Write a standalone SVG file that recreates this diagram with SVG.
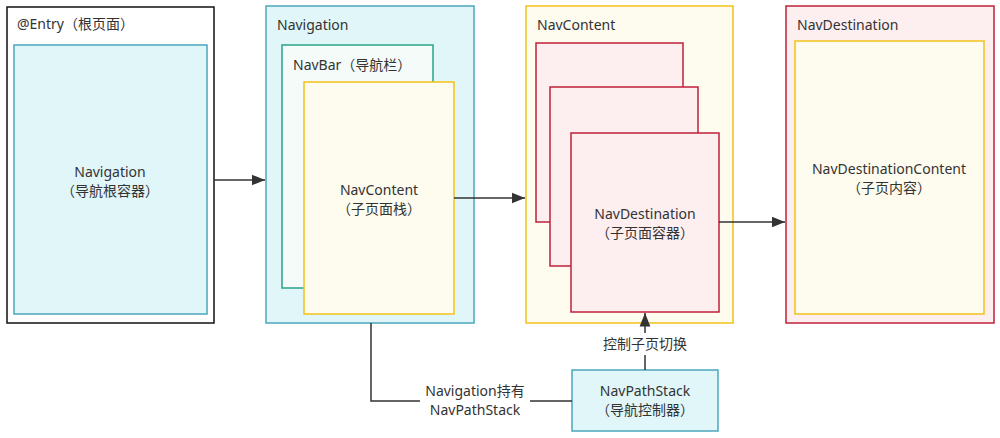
<svg xmlns="http://www.w3.org/2000/svg" width="1000" height="438" viewBox="0 0 1000 438">
<style>
text{font-family:"Noto Sans","Noto Sans CJK SC",sans-serif;font-size:14px;fill:#333}
.c{text-anchor:middle}
.cy{fill:#e0f6f8;stroke:#4ba6bd;stroke-width:1.5}
.yl{fill:#fefbef;stroke:#f2c21a;stroke-width:1.5}
.rd{fill:#fdeef0;stroke:#c0203a;stroke-width:1.5}
.gr{fill:#f4fbf9;stroke:#2aa386;stroke-width:1.5}
.ln{fill:none;stroke:#333;stroke-width:1.5}
</style>
<defs><marker id="a" viewBox="0 0 10 10" refX="10" refY="5" markerWidth="9" markerHeight="9" orient="auto"><path d="M0,1 L10,5 L0,9 z" fill="#333"/></marker></defs>
<g id="entry"><rect x="7" y="7" width="207" height="316" fill="#fff" stroke="#111" stroke-width="1.5"/><text x="17" y="29">@Entry（根页面）</text>
<rect x="14" y="45" width="193" height="269" class="cy"/><text x="110" y="177" class="c">Navigation</text><text x="110" y="196" class="c">（导航根容器）</text></g>
<g id="navigation"><rect x="266" y="6" width="208" height="317" class="cy"/><text x="277" y="30">Navigation</text>
<rect x="282" y="45" width="151" height="243" class="gr"/><text x="293" y="70">NavBar（导航栏）</text>
<rect x="304" y="82" width="150" height="232" class="yl"/><text x="379" y="195" class="c">NavContent</text><text x="379" y="214" class="c">（子页面栈）</text></g>
<g id="navcontent"><rect x="526" y="6" width="207" height="317" class="yl"/><text x="537" y="30">NavContent</text>
<rect x="536" y="43" width="147" height="179" class="rd"/><rect x="550" y="87" width="148" height="179" class="rd"/>
<rect x="571" y="133" width="148" height="179" class="rd"/><text x="645" y="219" class="c">NavDestination</text><text x="645" y="238" class="c">（子页面容器）</text></g>
<g id="navdest"><rect x="786" y="6" width="208" height="317" class="rd"/><text x="797" y="30">NavDestination</text>
<rect x="795" y="41" width="189" height="273" class="yl"/><text x="889" y="174" class="c">NavDestinationContent</text><text x="889" y="193" class="c">（子页内容）</text></g>
<g id="stack"><rect x="572" y="370" width="146" height="61" class="cy"/><text x="645" y="396" class="c">NavPathStack</text><text x="645" y="415" class="c">（导航控制器）</text></g>
<g id="connectors">
<path d="M214,180 H265" class="ln" marker-end="url(#a)"/>
<path d="M454,198 H525" class="ln" marker-end="url(#a)"/>
<path d="M719,222 H785" class="ln" marker-end="url(#a)"/>
<path d="M645,370 V313" class="ln" marker-end="url(#a)"/>
<path d="M371,323 V401 H572" class="ln"/>
<rect x="600" y="333" width="90" height="22" fill="#fff"/><text x="645" y="349" class="c">控制子页切换</text>
<rect x="420" y="380" width="110" height="40" fill="#fff"/><text x="475" y="396" class="c">Navigation持有</text><text x="475" y="415" class="c">NavPathStack</text>
</g>
</svg>
